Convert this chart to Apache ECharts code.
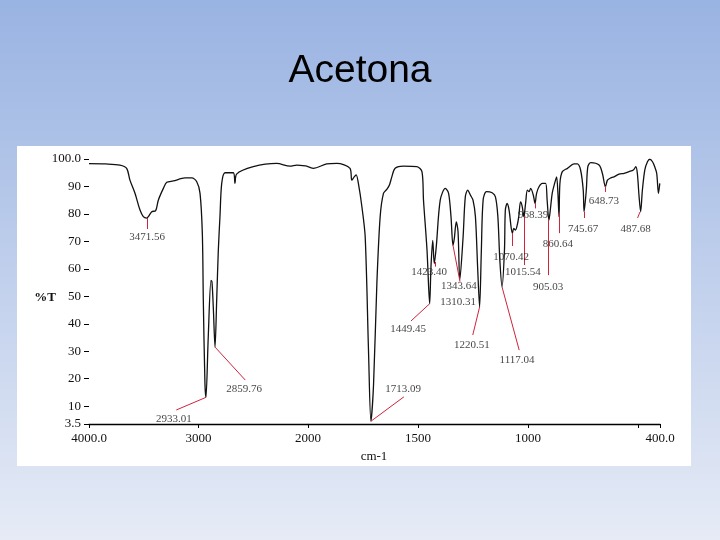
<!DOCTYPE html>
<html>
<head>
<meta charset="utf-8">
<script src="https://cdn.jsdelivr.net/npm/echarts@6/dist/echarts.min.js"></script>
<style>html,body{margin:0;padding:0;}#c{width:720px;height:540px;}</style>
</head>
<body>
<div id="c"></div>
<script>
// Spectrum (wavenumber cm-1, %T)
const wavenumber = [4000,3850,3717,3656,3626,3580,3534,3504,3473,3458,3427,3391,3367,3321,3290,3230,3123,3062,3016,2986,2965,2956,2941,2932,2911,2886,2877,2865,2849,2834,2819,2804,2788,2758,2682,2667,2652,2500,2286,2164,2103,2012,2000,
1976,1915,1869,1809,1801,1790,1781,1771,1755,1740,1725,1714,1702,1687,1672,1657,1641,1630,1619,1604,1566,1505,1482,1475,1459,1447,1441,1433,1426,1417,1399,1376,1361,1350,1341,1335,1326,1318,1310,1295,1285,1274,1262,1250,1239,1229,1220,1212,1204,1189,1163,1148,1137,1128,1118,1107,1103,1095,1086,1077,1071,1065,1057,1049,1042,1034,1026,1019,1011,1003,995,988,976,968,961,950,935,920,913,905,897,890,879,870,864,859,855,844,821,791,776,761,749,745,735,728,715,677,662,648,639,627,609,586,563,541,521,510,503,495,488,480,469,457,446,434,424,415,407,401];
const transmittance = [98.3,98.2,97.8,96.6,92.3,87.5,81.4,79.0,78.5,79.0,80.8,81.2,85.0,89.3,91.5,92.0,93.1,93.1,91.7,87.5,72.9,48.5,18.1,13.2,35.1,55.8,55.2,46.1,31.5,48.5,66.8,79,91.1,95,95,91.1,94.5,97.2,98.4,97.4,97.8,97.4,97.2,
96.6,98.2,98.4,96.6,92.3,93.5,94.2,91.1,82.6,71.6,30.3,4.5,18,54.6,79,87.5,89,90.5,93.5,96.6,97.4,97.2,95.4,85,66.8,47.3,60.7,70.4,61.9,68,85,89.3,87.5,79,68.6,71,77.1,73.5,56,71.6,86.2,88.7,86.9,85,79,60.7,46.1,66.8,85,88.1,87.7,86.2,79,63.1,53.4,66.8,81.4,83.8,81.4,75.3,72.9,74.7,74.1,75.9,79,84.4,82.6,79,83.8,88.7,88.1,89.3,86.9,83.8,87.5,89.9,91.1,91.1,85,77.7,82.6,87.5,91.1,93.5,87.5,79,91.1,95.4,96.6,98.2,98.2,96,88.7,80.8,88.7,97.2,98.7,97.8,94.8,89.9,92.3,93,93.5,94.5,94.8,95.4,96,97.2,94.8,86.2,80.8,88.7,96,99,99.9,99,97.2,94.8,87.5,91.1];

// Peak labels
const peakLabels = ['3471.56','2933.01','2859.76','1713.09','1449.45','1423.40','1343.64','1310.31','1220.51','1117.04','1070.42','1015.54','968.39','905.03','860.64','745.67','648.73','487.68'];
// Label anchor (wavenumber, %T) and leader line ends
const labelAt = [[3470,71.6],[3224,5.3],[2584,16.2],[1568,16.2],[1545,38.1],[1450,58.8],[1314,53.8],[1318,47.9],[1255,32.3],[1050,26.8],[1077,64.3],[1023,58.8],[977,79.6],[909,53.4],[864,69],[750,74.5],[655,84.7],[511,74.5]];
const leaderFrom = [[3471,78.5],[2932,13.2],[2849,31.5],[1714,4.5],[1447,47.3],[1423,62.5],[1341,68.6],null,[1220,46.1],[1118,53.4],[1073,73],[1018,79],[968,84],[908,77.8],[860,80.3],[745,80.7],[650,90.2],[491,80.7]];
const leaderTo   = [[3471,74.5],[3203,8.6],[2573,19.5],[1564,13.4],[1532,41],[1423,60.8],[1309,55.3],null,[1251,35.9],[1040,30.4],[1073,68.3],[1018,61.4],[968,82],[908,57.7],[860,73],[745,78.5],[650,88],[502,78.5]];

const yTicks = [3.5,10,20,30,40,50,60,70,80,90,100];

const leftData = [], rightData = [];
wavenumber.forEach((w,i)=>{
  if (w >= 2000) leftData.push([w, transmittance[i]]);
  if (w <= 2000) rightData.push([w, transmittance[i]]);
});
const leftLab = [], rightLab = [], leftLines = [], rightLines = [];
peakLabels.forEach((t,i)=>{
  const a = labelAt[i];
  (a[0] >= 2000 ? leftLab : rightLab).push([a[0], a[1], t]);
  if (leaderFrom[i]) {
    (leaderFrom[i][0] >= 2000 ? leftLines : rightLines).push({coords:[leaderFrom[i], leaderTo[i]]});
  }
});

const serif = 'Liberation Serif';
const txt = '#111';
const chart = echarts.init(document.getElementById('c'));
const labelSeries = (data, idx) => ({
  type:'scatter', xAxisIndex:idx, yAxisIndex:idx, data, symbolSize:1, silent:true,
  itemStyle:{color:'rgba(0,0,0,0)'}, z:5,
  label:{show:true, position:'inside', formatter:p=>p.data[2], color:txt, fontFamily:serif, fontSize:11}
});
const lineSeries = (data, idx) => ({
  type:'lines', coordinateSystem:'cartesian2d', xAxisIndex:idx, yAxisIndex:idx, data, silent:true,
  lineStyle:{color:'#d0243a', width:1, opacity:1}, z:4
});
chart.setOption({
  animation:false,
  backgroundColor:{type:'linear',x:0,y:0,x2:0,y2:1,colorStops:[{offset:0,color:'#99b3e2'},{offset:1,color:'#e6ebf6'}]},
  title:{text:'Acetona', left:'center', top:47, textStyle:{fontFamily:'Liberation Sans', fontSize:39, fontWeight:'normal', color:'#000'}},
  graphic:[
    {type:'rect', shape:{x:17,y:146,width:674,height:320}, style:{fill:'#ffffff'}, z:-10},
    {type:'text', x:45, y:298, style:{text:'%T', font:'bold 13px "Liberation Serif"', fill:txt, align:'center', verticalAlign:'middle'}},
    {type:'text', x:374, y:457, style:{text:'cm-1', font:'13px "Liberation Serif"', fill:txt, align:'center', verticalAlign:'middle'}}
  ],
  grid:[
    {left:89, top:159, width:219, height:265},
    {left:308, top:159, width:352, height:265}
  ],
  xAxis:[
    {type:'value', gridIndex:0, min:2000, max:4000, inverse:true, interval:1000,
     axisLine:{show:true, lineStyle:{color:'#000', width:1.3}},
     axisTick:{show:true, length:4, customValues:[4000,3000], lineStyle:{color:'#000'}},
     axisLabel:{customValues:[4000,3000], formatter:v=>v===4000?'4000.0':String(v), color:txt, fontFamily:serif, fontSize:13, margin:8},
     splitLine:{show:false}},
    {type:'value', gridIndex:1, min:400, max:2000, inverse:true, interval:500,
     axisLine:{show:true, lineStyle:{color:'#000', width:1.3}},
     axisTick:{show:true, length:4, customValues:[2000,1500,1000,500,400], lineStyle:{color:'#000'}},
     axisLabel:{customValues:[2000,1500,1000,400], formatter:v=>v===400?'400.0':String(v), color:txt, fontFamily:serif, fontSize:13, margin:8},
     splitLine:{show:false}}
  ],
  yAxis:[
    {type:'value', gridIndex:0, min:3.5, max:100,
     axisLine:{show:false},
     axisTick:{show:true, length:5, customValues:yTicks, lineStyle:{color:'#000'}},
     axisLabel:{customValues:yTicks, formatter:v=>v===100?'100.0':String(v), color:txt, fontFamily:serif, fontSize:13, margin:8},
     splitLine:{show:false}},
    {type:'value', gridIndex:1, min:3.5, max:100, show:false, splitLine:{show:false}}
  ],
  series:[
    {type:'line', xAxisIndex:0, yAxisIndex:0, data:leftData, showSymbol:false, symbol:'none', smooth:0.3,
     lineStyle:{color:'#111', width:1.3}, z:3},
    {type:'line', xAxisIndex:1, yAxisIndex:1, data:rightData, showSymbol:false, symbol:'none', smooth:0.3,
     lineStyle:{color:'#111', width:1.3}, z:3},
    lineSeries(leftLines,0), lineSeries(rightLines,1),
    labelSeries(leftLab,0), labelSeries(rightLab,1)
  ]
});
</script>
</body>
</html>
